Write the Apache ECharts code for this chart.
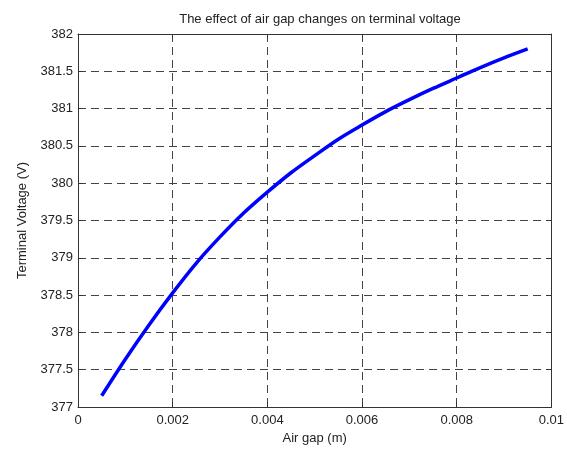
<!DOCTYPE html>
<html><head><meta charset="utf-8">
<script src="https://cdn.jsdelivr.net/npm/echarts@6/dist/echarts.min.js"></script>
<style>html,body{margin:0;padding:0;background:#fff}#c{width:567px;height:450px}</style>
</head><body><div id="c"></div>
<script>
const airGap = [0.0005,0.001,0.0015,0.002,0.0025,0.003,0.0035,0.004,0.0045,0.005,0.0055,0.006,0.0065,0.007,0.0075,0.008,0.0085,0.009,0.0095];
const voltage = [377.15,377.64,378.1,378.53,378.93,379.28,379.6,379.88,380.14,380.37,380.59,380.78,380.96,381.12,381.27,381.41,381.55,381.68,381.8];
const titleText = 'The effect of air gap changes on terminal voltage';
const xName = 'Air gap (m)';
const yName = 'Terminal Voltage (V)';

const font = 'Liberation Sans, Arial, sans-serif';
const txt = '#222';
const chart = echarts.init(document.getElementById('c'));
const tick = {show:true, inside:true, length:5, lineStyle:{color:'#333'}};
const line = {show:true, onZero:false, lineStyle:{color:'#333', width:1}};
chart.setOption({
  animation:false,
  title:{text:titleText, left:315, top:8, textAlign:'center',
    textStyle:{fontFamily:font, fontSize:13, fontWeight:'normal', color:txt}},
  grid:{left:78, top:34, right:14, bottom:43, containLabel:false},
  xAxis:[{type:'value', min:0, max:0.01, interval:0.002, position:'bottom',
    name:xName, nameLocation:'middle', nameGap:24,
    nameTextStyle:{fontFamily:font, fontSize:13, color:txt},
    axisLine:line, axisTick:tick,
    axisLabel:{fontFamily:font, fontSize:13, color:txt, margin:7, formatter:v=>String(+v.toFixed(4))},
    splitLine:{show:true, lineStyle:{color:'#444', type:[8,5], width:1}}},
    {type:'value', min:0, max:0.01, interval:0.002, position:'top',
    axisLine:line, axisTick:tick, axisLabel:{show:false}, splitLine:{show:false}}],
  yAxis:[{type:'value', min:377, max:382, interval:0.5, position:'left',
    name:yName, nameLocation:'middle', nameGap:49, nameRotate:90,
    nameTextStyle:{fontFamily:font, fontSize:13, color:txt},
    axisLine:line, axisTick:tick,
    axisLabel:{fontFamily:font, fontSize:13, color:txt, margin:5},
    splitLine:{show:true, lineStyle:{color:'#444', type:[8,5], width:1}}},
    {type:'value', min:377, max:382, interval:0.5, position:'right',
    axisLine:line, axisTick:tick, axisLabel:{show:false}, splitLine:{show:false}}],
  series:[{type:'line', data:airGap.map((x,i)=>[x,voltage[i]]), showSymbol:false, smooth:0.3,
    lineStyle:{color:'#0000ff', width:3.5}, xAxisIndex:0, yAxisIndex:0}]
});
</script></body></html>
